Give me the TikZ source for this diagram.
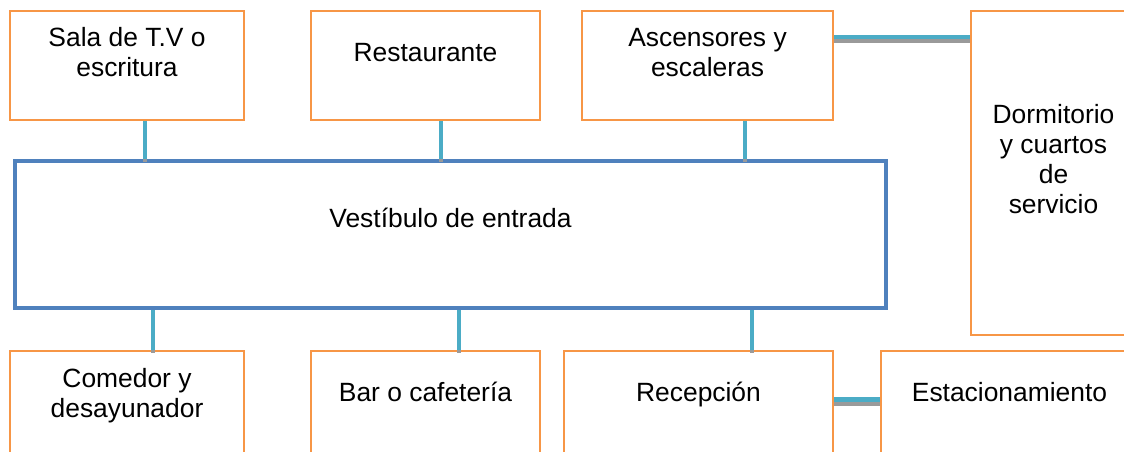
\documentclass[tikz,border=0pt]{standalone}
\usepackage{fontspec}
\setmainfont{Liberation Sans}

\definecolor{boxorange}{HTML}{F79646}
\definecolor{hallblue}{HTML}{4F81BD}
\definecolor{linkcyan}{HTML}{4BACC6}
\definecolor{linkshade}{HTML}{9A9A9A}

\begin{document}
\begin{tikzpicture}[x = 0.75pt, y = -0.75pt,
    room/.style={draw=boxorange, line width=1.9pt, inner sep=0pt},
    hall/.style={draw=hallblue, line width=3.4pt, inner sep=0pt},
    txt/.style={align=center, anchor=base, inner sep=0pt,
                font=\fontsize{19.8}{22.5}\selectfont},
    link/.style={draw=linkcyan, line width=3.6pt,
                 preaction={draw=linkshade, line width=3.6pt,
                            transform canvas={yshift=-2.8pt}}}]

\useasboundingbox (0,0) rectangle (1124,452);

\node[room, minimum width=175.5pt, minimum height=81.75pt](sala) at (127,65.5) {};
\node[room, minimum width=171.75pt, minimum height=81.75pt](rest) at (425.5,65.5) {};
\node[room, minimum width=188.25pt, minimum height=81.75pt](asc) at (707.5,65.5) {};
\node[room, minimum width=123.75pt, minimum height=243pt](dorm) at (1053.5,173) {};

\node[hall, minimum width=653.25pt, minimum height=110.25pt](vest) at (450.5,234.5) {};

\node[room, minimum width=175.5pt, minimum height=89.25pt](com) at (127,410.5) {};
\node[room, minimum width=171.75pt, minimum height=89.25pt](bar) at (425.5,410.5) {};
\node[room, minimum width=201.75pt, minimum height=89.25pt](rec) at (698.5,410.5) {};
\node[room, minimum width=192.75pt, minimum height=89.25pt](est) at (1009.5,410.5) {};

\node[txt](salaT) at (127,77) {Sala de T.V o\\escritura};
\node[txt](restT) at (425.5,62) {Restaurante};
\node[txt](ascT) at (707.5,77) {Ascensores y\\escaleras};
\node[txt](dormT) at (1053.5,214) {Dormitorio\\y cuartos\\de\\servicio};
\node[txt](vestT) at (450.5,228) {Vestíbulo de entrada};
\node[txt](comT) at (127,417) {Comedor y\\desayunador};
\node[txt](barT) at (425.5,401) {Bar o cafetería};
\node[txt](recT) at (698.5,401) {Recepción};
\node[txt](estT) at (1009.5,401) {Estacionamiento};

\draw[link] ([xshift=13.5pt]sala.south) -- ([xshift=13.5pt]sala.south |- vest.north);
\draw[link] ([xshift=11.6pt]rest.south) -- ([xshift=11.6pt]rest.south |- vest.north);
\draw[link] ([xshift=28.1pt]asc.south) -- ([xshift=28.1pt]asc.south |- vest.north);

\draw[link] ([xshift=19.5pt]com.north |- vest.south) -- ([xshift=19.5pt]com.north);
\draw[link] ([xshift=25.1pt]bar.north |- vest.south) -- ([xshift=25.1pt]bar.north);
\draw[link] ([xshift=40.1pt]rec.north |- vest.south) -- ([xshift=40.1pt]rec.north);

\draw[link] ([yshift=21.4pt]asc.east) -- ([yshift=21.4pt]asc.east -| dorm.west);
\draw[link] ([yshift=8.25pt]rec.east) -- ([yshift=8.25pt]rec.east -| est.west);

\end{tikzpicture}
\end{document}
